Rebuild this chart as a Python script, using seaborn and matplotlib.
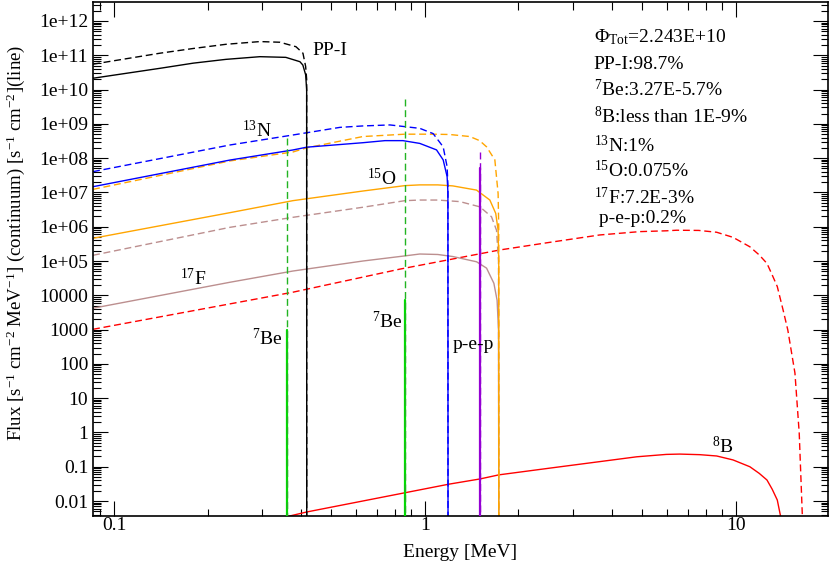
import numpy as np
import pandas as pd
import matplotlib
matplotlib.use("Agg")
import matplotlib.pyplot as plt
import seaborn as sns
from matplotlib.ticker import LogLocator, NullFormatter, FixedLocator, FixedFormatter

# ---------------- data ----------------
E_pp_solid = [0.0856, 0.1406, 0.18, 0.229, 0.2947, 0.357, 0.3963, 0.405, 0.4135, 0.4166, 0.4168]
F_pp_solid = [2.14e10, 4.17e10, 5.9e10, 7.6e10, 9.1e10, 8.7e10, 6.5e10, 5.2e10, 2.7e10, 1.0e10, 1e-3]

E_pp_dash = [0.0856, 0.1406, 0.18, 0.229, 0.2947, 0.3418, 0.3848, 0.4053, 0.4135, 0.4166, 0.4168]
F_pp_dash = [5.5e10, 1.15e11, 1.58e11, 2.09e11, 2.51e11, 2.4e11, 1.78e11, 1.15e11, 4.7e10, 2.0e10, 1e-3]

E_n13_dash = [0.0856, 0.236, 0.376, 0.533, 0.632, 0.772, 0.963, 1.063, 1.145, 1.179, 1.186, 1.187]
F_n13_dash = [4.04e7, 2.42e8, 4.73e8, 7.9e8, 8.7e8, 9.3e8, 7.4e8, 5.2e8, 2.14e8, 5.6e7, 1.6e7, 1e-3]

E_n13_solid = [0.0856, 0.236, 0.376, 0.417, 0.632, 0.744, 0.85, 0.963, 1.09, 1.145, 1.179, 1.186, 1.187]
F_n13_solid = [1.47e7, 8.8e7, 1.73e8, 2.09e8, 2.82e8, 3.24e8, 3.24e8, 2.69e8, 1.74e8, 8.9e7, 2.9e7, 1.0e7, 1e-3]

E_o15_dash = [0.0856, 0.236, 0.376, 0.417, 0.632, 0.862, 1.038, 1.2, 1.395, 1.5, 1.579, 1.679, 1.72, 1.728, 1.729]
F_o15_dash = [1.23e7, 8.3e7, 1.51e8, 2.0e8, 4.27e8, 5.0e8, 5.0e8, 4.9e8, 4.27e8, 3.24e8, 2.14e8, 8.9e7, 9.3e6, 1.0e6, 1e-3]

E_o15_solid = [0.0856, 0.236, 0.376, 0.632, 0.862, 0.963, 1.1, 1.23, 1.466, 1.618, 1.69, 1.72, 1.728, 1.729]
F_o15_solid = [4.6e5, 2.57e6, 5.75e6, 1.1e7, 1.58e7, 1.66e7, 1.66e7, 1.55e7, 1.17e7, 6.0e6, 2.45e6, 7.9e5, 1.0e5, 1e-3]

E_f17_dash = [0.0856, 0.236, 0.376, 0.632, 0.862, 0.963, 1.1, 1.296, 1.503, 1.638, 1.70, 1.725, 1.729]
F_f17_dash = [1.47e5, 9.6e5, 1.88e6, 3.7e6, 5.75e6, 6.0e6, 6.0e6, 5.4e6, 3.8e6, 1.95e6, 7.9e5, 1.0e5, 1e-3]

E_f17_solid = [0.0856, 0.236, 0.376, 0.632, 0.862, 0.963, 1.1, 1.23, 1.466, 1.579, 1.667, 1.707, 1.725, 1.729]
F_f17_solid = [4.2e3, 2.4e4, 5.1e4, 1.0e5, 1.41e5, 1.6e5, 1.55e5, 1.35e5, 9.5e4, 6.2e4, 2.24e4, 7.2e3, 1.0e3, 1e-3]

E_b8_dash = [0.0856, 0.376, 0.831, 1.742, 2.52, 3.65, 4.91, 5.98, 6.45, 7.6, 8.68, 9.8, 11.1, 11.9, 12.6,
             13.1, 13.6, 14.2, 14.7, 15.5, 16.0, 16.4]
F_b8_dash = [1.02e3, 1.23e4, 5.8e4, 2.1e5, 3.5e5, 5.75e5, 7.2e5, 7.6e5, 7.9e5, 7.8e5, 6.9e5, 4.9e5, 2.6e5,
             1.5e5, 8.5e4, 3.9e4, 1.8e4, 3.7e3, 9.8e2, 54, 0.95, 2.5e-3]

E_b8_solid = [0.36, 0.417, 0.862, 1.194, 1.503, 1.73, 2.52, 3.65, 4.8, 5.98, 6.6, 7.66, 8.68, 9.8, 11.1,
              11.9, 12.6, 13.1, 13.6, 14.05]
F_b8_solid = [3.5e-3, 4.8e-3, 0.0174, 0.031, 0.044, 0.058, 0.091, 0.141, 0.195, 0.229, 0.234, 0.225,
              0.206, 0.158, 0.10, 0.064, 0.041, 0.022, 0.0107, 2.5e-3]

# line sources: energy, top of dashed line, top of solid line
line_E = [0.36, 0.862, 1.50]
line_dash_top = [3.8e8, 5.2e9, 1.5e8]
line_solid_top = [1.0e3, 7.3e3, 5.0e7]
line_bottom = 1e-3

xtick_vals = [0.1, 1, 10]
xtick_labels = ["0.1", "1", "10"]
ytick_vals = [1e-2, 1e-1, 1e0, 1e1, 1e2, 1e3, 1e4, 1e5, 1e6, 1e7, 1e8, 1e9, 1e10, 1e11, 1e12]
ytick_labels = ["0.01", "0.1", "1", "10", "100", "1000", "10000", "1e+05", "1e+06",
                "1e+07", "1e+08", "1e+09", "1e+10", "1e+11", "1e+12"]

summary_lines = [r"$\Phi_{\mathrm{Tot}}$=2.243E+10", "PP-I:98.7%", r"$^{7}$Be:3.27E-5.7%",
                 r"$^{8}$B:less than 1E-9%", r"$^{13}$N:1%", r"$^{15}$O:0.075%",
                 r"$^{17}$F:7.2E-3%", " p-e-p:0.2%"]
summary_y = [2.39e11, 3.98e10, 6.5e9, 1.08e9, 1.54e8, 2.88e7, 4.5e6, 1.26e6]

# ---------------- style ----------------
sns.set_theme(style="ticks")
plt.rcParams["font.family"] = ["Liberation Serif", "DejaVu Serif"]
plt.rcParams["mathtext.fontset"] = "custom"
plt.rcParams["mathtext.rm"] = "Liberation Serif"
plt.rcParams["mathtext.it"] = "Liberation Serif:italic"
plt.rcParams["mathtext.bf"] = "Liberation Serif:bold"
plt.rcParams["mathtext.sf"] = "Liberation Serif"

W, H = 830, 565
fig = plt.figure(figsize=(W / 100, H / 100), dpi=100)
ax = fig.add_axes([93 / W, 1 - 516 / H, (828 - 93) / W, (516 - 2) / H])
ax.set_xscale("log")
ax.set_yscale("log")

DASH = (0, (5, 2.7))
LW = 1.0


def draw(E, F, color, dashed, lw=LW, z=2):
    sns.lineplot(x=E, y=F, ax=ax, color=color, linestyle=DASH if dashed else "-",
                 linewidth=lw, sort=False, estimator=None, zorder=z)


draw(E_b8_dash, F_b8_dash, "#ff0000", True)
draw(E_b8_solid, F_b8_solid, "#ff0000", False)
draw(E_f17_dash, F_f17_dash, "#bc8f8f", True)
draw(E_f17_solid, F_f17_solid, "#bc8f8f", False)
draw(E_o15_dash, F_o15_dash, "#ffa500", True)
draw(E_o15_solid, F_o15_solid, "#ffa500", False)
draw(E_n13_dash, F_n13_dash, "#0000ff", True)
draw(E_n13_solid, F_n13_solid, "#0000ff", False)
draw(E_pp_dash, F_pp_dash, "#000000", True)
draw(E_pp_solid, F_pp_solid, "#000000", False)

line_cols_dash = ["#22b422", "#22b422", "#9400d3"]
line_cols_solid = ["#00dd00", "#00dd00", "#9400d3"]
for e, td, ts, cd, cs in zip(line_E, line_dash_top, line_solid_top, line_cols_dash, line_cols_solid):
    draw([e, e], [ts, line_bottom], cs, False, lw=1.6, z=3)
    draw([e, e], [td, line_bottom], cd, True, lw=1.0, z=4)

ax.set_xlim(0.0856, 19.8)
ax.set_ylim(0.00366, 3.58e12)

ax.xaxis.set_major_locator(FixedLocator(xtick_vals))
ax.xaxis.set_major_formatter(FixedFormatter(xtick_labels))
ax.xaxis.set_minor_locator(LogLocator(base=10, subs=np.arange(2, 10), numticks=100))
ax.xaxis.set_minor_formatter(NullFormatter())
ax.yaxis.set_major_locator(FixedLocator(ytick_vals))
ax.yaxis.set_major_formatter(FixedFormatter(ytick_labels))
ax.yaxis.set_minor_locator(LogLocator(base=10, subs=np.arange(2, 10), numticks=100))
ax.yaxis.set_minor_formatter(NullFormatter())

ax.tick_params(which="both", direction="in", top=True, right=True, width=0.8,
               colors="black", labelsize=14)
ax.tick_params(which="major", length=10.8)
ax.tick_params(which="minor", length=5.4)
ax.tick_params(axis="x", which="major", pad=1)
ax.tick_params(axis="y", which="major", pad=3.5)
for s in ax.spines.values():
    s.set_linewidth(1.2)
    s.set_color("black")

ax.set_xlabel("Energy [MeV]", fontsize=14, color="black")
ax.set_ylabel(r"Flux [s$^{-1}$ cm$^{-2}$ MeV$^{-1}$] (continuum) [s$^{-1}$ cm$^{-2}$](line)",
              fontsize=13.6, color="black")
ax.xaxis.set_label_coords(0.5, -0.054)
ax.yaxis.set_label_coords(-0.0898, 0.531)

# curve labels
lab = dict(fontsize=14, color="black", ha="left", va="baseline")
ax.text(0.436, 1.02e11, "PP-I", **lab)
ax.text(0.258, 4.14e8, r"$^{13}$N", **lab)
ax.text(0.651, 1.65e7, r"$^{15}$O", **lab)
ax.text(0.163, 2.0e4, r"$^{17}$F", **lab)
ax.text(0.278, 356, r"$^{7}$Be", **lab)
ax.text(0.675, 1114, r"$^{7}$Be", **lab)
ax.text(1.23, 272, "p-e-p", **lab)
ax.text(8.37, 0.25, r"$^{8}$B", **lab)

for t, y in zip(summary_lines, summary_y):
    ax.text(3.49, y, t, **lab)

fig.savefig("out.png", dpi=100)
